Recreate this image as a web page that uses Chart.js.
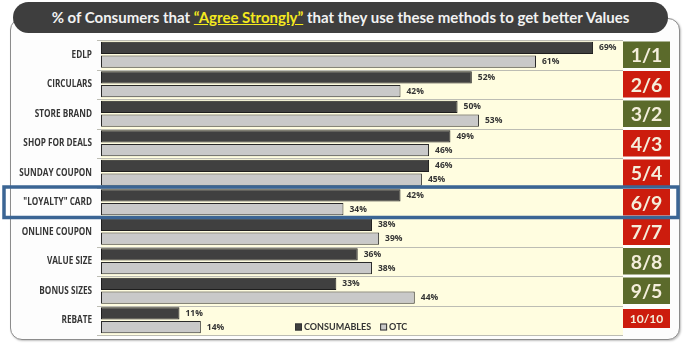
<!DOCTYPE html>
<html>
<head>
<meta charset="utf-8">
<script src="https://cdn.jsdelivr.net/npm/chart.js@4/dist/chart.umd.min.js"></script>
<style>
  html, body { margin: 0; padding: 0; background: #ffffff; }
  #wrap { position: relative; width: 686px; height: 344px; overflow: hidden; }
  #frame {
    position: absolute; left: 10px; top: 18px; width: 668px; height: 320px;
    border: 1.5px solid #8c8c8c; border-radius: 12px; background: #fdfdfd;
    box-shadow: 1px 1px 2px rgba(0,0,0,0.25);
  }
  #title {
    position: absolute; left: 13px; top: 2px; width: 655px; height: 31px;
    border-radius: 16px; background: #3e3e3e; color: #f2f2f2;
    font: bold 15px Lato, sans-serif; text-align: center; line-height: 31px;
    white-space: nowrap;
  }
  #title span { color: #f4e91e; text-decoration: underline; }
  canvas { position: absolute; left: 0; top: 0; }
</style>
</head>
<body>
<div id="wrap">
  <div id="frame"></div>
  <canvas id="c" width="686" height="344"></canvas>
  <div id="title">% of Consumers that <span>“Agree Strongly”</span> that they use these methods to get better Values</div>
</div>
<script>
// Survey methods and the share of consumers who agree strongly, per segment
const categories = ['EDLP', 'CIRCULARS', 'STORE BRAND', 'SHOP FOR DEALS', 'SUNDAY COUPON',
                    '"LOYALTY" CARD', 'ONLINE COUPON', 'VALUE SIZE', 'BONUS SIZES', 'REBATE'];
const consumables = [69, 52, 50, 49, 46, 42, 38, 36, 33, 11];
const otc = [61, 42, 53, 46, 45, 34, 39, 38, 44, 14];
// Rank in consumables / rank in OTC
const rankLabels = ['1/1', '2/6', '3/2', '4/3', '5/4', '6/9', '7/7', '8/8', '9/5', '10/10'];
const rankGood = [true, false, true, false, false, false, false, true, true, false];
const highlightIndex = 5;

const GREEN = '#5b6a2b', RED = '#cc1c0d', BOX_TEXT = '#f4eedb';
const FONT = 'Lato, sans-serif';
const LABEL_FONT = '"Open Sans", sans-serif';

const decorations = {
  id: 'decorations',
  beforeDatasetsDraw(chart) {
    const { ctx, chartArea: a, scales } = chart;
    ctx.save();
    ctx.fillStyle = '#fffde0';
    ctx.fillRect(a.left, a.top, a.right - a.left, a.bottom - a.top);
    // row separators with short ticks on the left
    ctx.strokeStyle = '#bdbdb4';
    ctx.lineWidth = 1;
    const n = categories.length, rowH = (a.bottom - a.top) / n;
    for (let i = 0; i <= n; i++) {
      const y = Math.round(a.top + i * rowH) + 0.5;
      ctx.beginPath();
      ctx.moveTo(a.left - 4, y);
      ctx.lineTo(a.right, y);
      ctx.stroke();
    }
    // category labels, condensed, right-aligned against the axis
    ctx.font = 'bold 10px ' + LABEL_FONT;
    ctx.fillStyle = '#353535';
    ctx.textAlign = 'right';
    ctx.textBaseline = 'middle';
    const sx = 0.82;
    chart.data.labels.forEach((lab, i) => {
      const y = scales.y.getPixelForValue(i);
      ctx.save();
      ctx.translate(a.left - 9, y);
      ctx.scale(sx, 1);
      ctx.fillText(lab, 0, 0);
      ctx.restore();
    });
    ctx.restore();
  },
  afterDatasetsDraw(chart) {
    const { ctx, chartArea: a, scales } = chart;
    const n = categories.length, rowH = (a.bottom - a.top) / n;
    ctx.save();

    // value labels at the end of each bar
    ctx.font = 'bold 8.5px ' + LABEL_FONT;
    ctx.fillStyle = '#333333';
    ctx.textAlign = 'left';
    ctx.textBaseline = 'middle';
    chart.data.datasets.forEach((ds, di) => {
      chart.getDatasetMeta(di).data.forEach((bar, i) => {
        ctx.fillText(ds.data[i] + '%', bar.x + 6, bar.y);
      });
    });

    // rank boxes on the right
    rankLabels.forEach((lab, i) => {
      const cy = scales.y.getPixelForValue(i);
      const small = lab.length > 3;
      const h = small ? 19 : rowH - 3;
      const top = small ? cy - rowH / 2 + 3.5 : cy - h / 2;
      ctx.fillStyle = rankGood[i] ? GREEN : RED;
      ctx.fillRect(a.right, top, 47, h);
      ctx.fillStyle = BOX_TEXT;
      ctx.font = 'bold ' + (small ? 12 : 19.5) + 'px ' + FONT;
      ctx.textAlign = 'center';
      ctx.fillText(lab, a.right + 23.5, top + h / 2 + 1);
    });

    // legend inside the plot, bottom centre
    const ly = a.bottom - 8;
    let lx = 295;
    ctx.font = 'bold 9px ' + FONT;
    ctx.textAlign = 'left';
    chart.data.datasets.forEach((ds) => {
      ctx.fillStyle = ds.backgroundColor;
      ctx.fillRect(lx, ly - 3.5, 7, 7);
      ctx.strokeStyle = '#333';
      ctx.lineWidth = 1;
      ctx.strokeRect(lx + 0.5, ly - 3, 6, 6);
      ctx.fillStyle = '#333333';
      ctx.fillText(ds.label, lx + 9, ly + 0.5);
      lx += 9 + ctx.measureText(ds.label).width + 9;
    });

    // highlighted row
    const hy = scales.y.getPixelForValue(highlightIndex);
    ctx.strokeStyle = '#3b6594';
    ctx.lineWidth = 3.5;
    ctx.strokeRect(4, hy - rowH / 2 - 0.5, 674, rowH + 1);
    ctx.restore();
  }
};

new Chart(document.getElementById('c'), {
  type: 'bar',
  data: {
    labels: categories,
    datasets: [
      { label: 'CONSUMABLES', data: consumables, backgroundColor: '#404040',
        borderColor: '#1e1e1e', borderWidth: 1, borderSkipped: false },
      { label: 'OTC', data: otc, backgroundColor: '#c9c9c9',
        borderColor: '#2a2a2a', borderWidth: 1, borderSkipped: false }
    ]
  },
  options: {
    indexAxis: 'y',
    responsive: false,
    animation: false,
    devicePixelRatio: 1,
    layout: { padding: { left: 0, top: 40, right: 63, bottom: 9 } },
    datasets: { bar: { categoryPercentage: 0.93, barPercentage: 0.9 } },
    scales: {
      x: { display: false, min: 0, max: 73.2 },
      y: {
        afterFit(scale) { scale.width = 101; },
        grid: { display: false },
        border: { display: false },
        ticks: { display: false }
      }
    },
    plugins: { legend: { display: false }, tooltip: { enabled: false } }
  },
  plugins: [decorations]
});
</script>
</body>
</html>
